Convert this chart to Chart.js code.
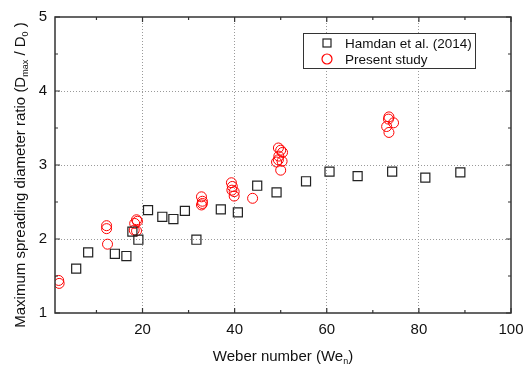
<!DOCTYPE html>
<html>
<head>
<meta charset="utf-8">
<script src="https://cdn.jsdelivr.net/npm/chart.js@4"></script>
<style>
    html, body { margin: 0; padding: 0; background: #fff; }
    #wrap { width: 524px; height: 367px; }
</style>
</head>
<body>
<div id="wrap"><canvas id="spreadChart" width="524" height="367"></canvas></div>
<script>
// Hamdan et al. (2014)
const hamdanWe = [5.6, 8.2, 14.0, 16.5, 17.8, 19.1, 21.2, 24.3, 26.7, 29.2, 31.7, 37.0, 40.7, 44.9, 49.1, 55.5, 60.6, 66.7, 74.2, 81.4, 89.0];
const hamdanRatio = [1.60, 1.82, 1.80, 1.77, 2.10, 1.99, 2.39, 2.30, 2.27, 2.38, 1.99, 2.40, 2.36, 2.72, 2.63, 2.78, 2.91, 2.85, 2.91, 2.83, 2.90];

// Present study
const presentWe = [1.8, 1.9,
    12.2, 12.2, 12.4,
    18.7, 18.3, 18.7, 18.2, 18.9,
    32.8, 33.0, 33.0, 32.8,
    39.3, 39.5, 39.4, 39.9, 39.9,
    43.9,
    49.5, 50.0, 50.4, 49.6, 49.5, 49.1, 50.3, 50.0,
    73.5, 73.4, 74.5, 73.0, 73.5];
const presentRatio = [1.44, 1.40,
    2.18, 2.14, 1.93,
    2.26, 2.21, 2.11, 2.12, 2.24,
    2.57, 2.51, 2.48, 2.46,
    2.76, 2.71, 2.66, 2.64, 2.58,
    2.55,
    3.23, 3.20, 3.17, 3.12, 3.07, 3.04, 3.05, 2.93,
    3.65, 3.62, 3.57, 3.52, 3.44];

const xTicks = [20, 40, 60, 80, 100];
const xMinorTicks = [10, 30, 50, 70, 90];
const yTicks = [1, 2, 3, 4, 5];
const yMinorTicks = [1.5, 2.5, 3.5, 4.5];

const FONT = 'Arial, "Liberation Sans", sans-serif';

const toPoints = (xs, ys) => xs.map((x, i) => ({ x: x, y: ys[i] }));

// draw a string made of [text, isSubscript] pieces, centred on the origin
function drawRich(ctx, parts, size) {
    const subSize = Math.round(size * 0.62);
    let total = 0;
    parts.forEach(p => {
        ctx.font = (p[1] ? subSize : size) + 'px ' + FONT;
        total += ctx.measureText(p[0]).width;
    });
    let x = -total / 2;
    parts.forEach(p => {
        ctx.font = (p[1] ? subSize : size) + 'px ' + FONT;
        ctx.fillText(p[0], x, p[1] ? size * 0.3 : 0);
        x += ctx.measureText(p[0]).width;
    });
}

const framePlugin = {
    id: 'frame',
    afterDatasetsDraw(chart) {
        const ctx = chart.ctx;
        const a = chart.chartArea;
        const xs = chart.scales.x, ys = chart.scales.y;
        ctx.save();
        ctx.strokeStyle = '#333';
        ctx.lineWidth = 1.5;
        ctx.strokeRect(a.left, a.top, a.right - a.left, a.bottom - a.top);

        // inward tick marks on all four sides
        ctx.lineWidth = 1.2;
        ctx.beginPath();
        const tickX = (v, len) => {
            const px = xs.getPixelForValue(v);
            ctx.moveTo(px, a.bottom); ctx.lineTo(px, a.bottom - len);
            ctx.moveTo(px, a.top); ctx.lineTo(px, a.top + len);
        };
        const tickY = (v, len) => {
            const py = ys.getPixelForValue(v);
            ctx.moveTo(a.left, py); ctx.lineTo(a.left + len, py);
            ctx.moveTo(a.right, py); ctx.lineTo(a.right - len, py);
        };
        xTicks.forEach(v => tickX(v, 5));
        xMinorTicks.forEach(v => tickX(v, 3));
        yTicks.forEach(v => tickY(v, 5));
        yMinorTicks.forEach(v => tickY(v, 3));
        ctx.stroke();
        ctx.restore();
    },
    afterDraw(chart) {
        const ctx = chart.ctx;
        const a = chart.chartArea;
        ctx.save();
        ctx.fillStyle = '#111';
        ctx.textBaseline = 'middle';
        ctx.textAlign = 'left';

        // axis titles
        ctx.save();
        ctx.translate((a.left + a.right) / 2, 357);
        drawRich(ctx, [['Weber number (We', false], ['n', true], [')', false]], 15);
        ctx.restore();

        ctx.save();
        ctx.translate(21, 175);
        ctx.rotate(-Math.PI / 2);
        drawRich(ctx, [['Maximum spreading diameter ratio (D', false], ['max', true], [' / D', false], ['0', true], [' )', false]], 15);
        ctx.restore();

        // legend box
        const bx = 303, by = 33, bw = 172, bh = 35;
        ctx.fillStyle = '#fff';
        ctx.fillRect(bx, by, bw, bh);
        ctx.strokeStyle = '#333';
        ctx.lineWidth = 1;
        ctx.strokeRect(bx + 0.5, by + 0.5, bw, bh);

        ctx.lineWidth = 1.2;
        ctx.strokeStyle = '#222';
        ctx.strokeRect(323, 39, 8, 8);
        ctx.strokeStyle = '#f00';
        ctx.beginPath();
        ctx.arc(327, 59, 5, 0, Math.PI * 2);
        ctx.stroke();

        ctx.fillStyle = '#111';
        ctx.font = '13.5px ' + FONT;
        chart.data.datasets.forEach((ds, i) => {
            ctx.fillText(ds.label, 345, 44 + i * 16);
        });
        ctx.restore();
    }
};

const gridColor = '#9a9a9a';

new Chart(document.getElementById('spreadChart'), {
    type: 'scatter',
    data: {
        datasets: [{
            label: 'Hamdan et al. (2014)',
            data: toPoints(hamdanWe, hamdanRatio),
            pointStyle: 'rect',
            pointRadius: 6.4,
            borderColor: '#222',
            borderWidth: 1.2,
            backgroundColor: 'rgba(0,0,0,0)'
        }, {
            label: 'Present study',
            data: toPoints(presentWe, presentRatio),
            pointStyle: 'circle',
            pointRadius: 5,
            borderColor: '#ff0000',
            borderWidth: 1,
            backgroundColor: 'rgba(0,0,0,0)'
        }]
    },
    options: {
        responsive: false,
        animation: false,
        layout: { padding: { top: 17, right: 13, bottom: 0, left: 0 } },
        plugins: {
            legend: { display: false },
            tooltip: { enabled: false }
        },
        scales: {
            x: {
                type: 'linear',
                min: 1,
                max: 100,
                afterBuildTicks: scale => { scale.ticks = xTicks.map(v => ({ value: v })); },
                afterFit: scale => {
                    scale.height = 54;
                    // let the "100" label hang into the right margin
                    scale.paddingLeft = 0;
                    scale.paddingRight = 0;
                },
                grid: {
                    color: ctx => (ctx.tick && ctx.tick.value < 100) ? gridColor : 'rgba(0,0,0,0)',
                    lineWidth: 1,
                    drawTicks: false
                },
                border: { display: false, dash: [1, 2] },
                ticks: {
                    color: '#111',
                    padding: 8,
                    maxRotation: 0,
                    font: { family: FONT, size: 15 }
                }
            },
            y: {
                type: 'linear',
                min: 1,
                max: 5,
                afterBuildTicks: scale => { scale.ticks = yTicks.map(v => ({ value: v })); },
                afterFit: scale => {
                    scale.width = 55;
                    scale.paddingTop = 0;
                    scale.paddingBottom = 0;
                },
                grid: {
                    color: ctx => (ctx.tick && ctx.tick.value > 1 && ctx.tick.value < 5) ? gridColor : 'rgba(0,0,0,0)',
                    lineWidth: 1,
                    drawTicks: false
                },
                border: { display: false, dash: [1, 2] },
                ticks: {
                    color: '#111',
                    padding: 8,
                    font: { family: FONT, size: 15 }
                }
            }
        }
    },
    plugins: [framePlugin]
});
</script>
</body>
</html>
